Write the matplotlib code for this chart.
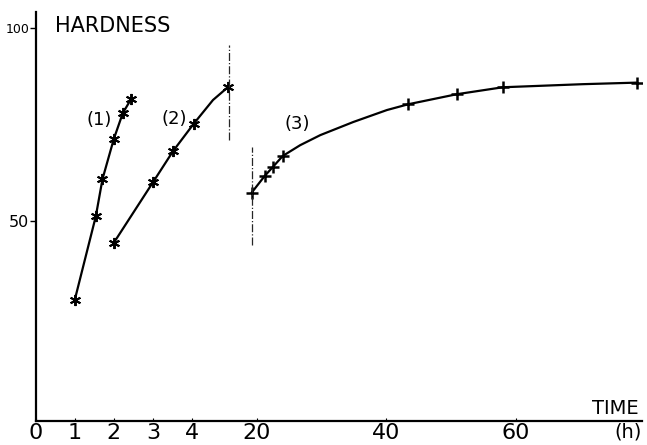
import numpy as np
import matplotlib
matplotlib.use("Agg")
import matplotlib.pyplot as plt

# hours (left part 0-5 h, right part from ~16 h)
CURVE1_TIME = [1.0, 1.54, 1.71, 2.0, 2.23, 2.44]
CURVE1_HARD = [29.5, 51.2, 60.8, 71.2, 77.9, 81.5]

CURVE2_TIME = [2.0, 3.01, 3.52, 4.05, 4.93]
CURVE2_HARD = [44.3, 60.1, 68.1, 75.2, 84.7]
CURVE2_LINE_TIME = [2.0, 3.01, 3.52, 4.05, 4.54, 4.93]
CURVE2_LINE_HARD = [44.3, 60.1, 68.1, 75.2, 81.3, 84.7]

CURVE3_TIME = [19.2, 21.2, 22.5, 24.0, 43.4, 50.9, 58.0, 78.7]
CURVE3_HARD = [57.3, 61.6, 64.0, 66.8, 80.2, 82.8, 84.6, 85.8]
CURVE3_LINE_TIME = [19.2, 21.2, 22.5, 24.0, 26.7, 29.8, 34.9, 40.1, 43.4, 50.9, 58.0, 70.4, 78.7]
CURVE3_LINE_HARD = [57.3, 61.6, 64.0, 66.8, 69.6, 72.2, 75.6, 78.7, 80.2, 82.8, 84.6, 85.4, 85.8]

CUT_TIMES = [4.94, 19.2]
CUT_LOW = [70.9, 43.7]
CUT_HIGH = [95.5, 69.1]

X_TICKS = [0, 1, 2, 3, 4, 20, 40, 60]
Y_TICKS = [50, 100]

BREAK_LO = 5.0
BREAK_HI = 16.0
RIGHT_FACTOR = 6.48 / 39.1


def forward(x):
    x = np.asarray(x, dtype=float)
    return np.where(x <= BREAK_LO, x, BREAK_LO + (x - BREAK_HI) * RIGHT_FACTOR)


def inverse(y):
    y = np.asarray(y, dtype=float)
    return np.where(y <= BREAK_LO, y, BREAK_HI + (y - BREAK_LO) / RIGHT_FACTOR)


def main() -> None:
    plt.rcParams["font.family"] = ["DejaVu Sans"]
    fig = plt.figure(figsize=(6.47, 4.45), dpi=100)
    ax = fig.add_axes([35.7 / 647, (445 - 420.7) / 445, (642 - 35.7) / 647, (420.7 - 12) / 445])
    ax.set_xscale("function", functions=(forward, inverse))
    ax.set_xlim(0, 79.5)
    ax.set_ylim(-1.8, 104.1)

    line_kw = dict(color="black", lw=1.6, solid_capstyle="round")
    star_kw = dict(ls="none", color="black", marker=(6, 2, 0), ms=8, mew=1.4)
    plus_kw = dict(ls="none", color="black", marker="+", ms=9, mew=1.8)

    ax.plot(CURVE1_TIME, CURVE1_HARD, **line_kw)
    ax.plot(CURVE1_TIME, CURVE1_HARD, **star_kw)
    ax.plot(CURVE2_LINE_TIME, CURVE2_LINE_HARD, **line_kw)
    ax.plot(CURVE2_TIME, CURVE2_HARD, **star_kw)
    ax.plot(CURVE3_LINE_TIME, CURVE3_LINE_HARD, **line_kw)
    ax.plot(CURVE3_TIME, CURVE3_HARD, **plus_kw)

    ax.vlines(CUT_TIMES, CUT_LOW, CUT_HIGH, colors="0.15", linestyles="dashdot", lw=0.9)

    for side in ("top", "right"):
        ax.spines[side].set_visible(False)
    for side in ("left", "bottom"):
        ax.spines[side].set_linewidth(1.6)

    ax.set_xticks(X_TICKS)
    ax.set_xticklabels([str(t) for t in X_TICKS], fontsize=16)
    ax.tick_params(axis="x", length=2, direction="in", pad=2)
    ax.set_yticks(Y_TICKS)
    ax.set_yticklabels([str(t) for t in Y_TICKS])
    ax.tick_params(axis="y", length=4, width=1.0, pad=0.5)
    labels = ax.get_yticklabels()
    labels[0].set_fontsize(11.5)
    labels[1].set_fontsize(9)
    ax.xaxis.set_minor_locator(plt.NullLocator())
    ax.yaxis.set_minor_locator(plt.NullLocator())

    ax.text(0.49, 100.6, "HARDNESS", ha="left", va="center", fontsize=15)
    ax.text(1.62, 76.0, "(1)", ha="center", va="center", fontsize=13)
    ax.text(3.54, 76.3, "(2)", ha="center", va="center", fontsize=13)
    ax.text(26.2, 75.0, "(3)", ha="center", va="center", fontsize=13)
    ax.text(75.3, 1.4, "TIME", ha="center", va="center", fontsize=14)
    ax.text(77.4, -4.7, "(h)", ha="center", va="center", fontsize=14, clip_on=False)

    fig.savefig("out.png", dpi=100)
    plt.close(fig)


if __name__ == "__main__":
    main()
